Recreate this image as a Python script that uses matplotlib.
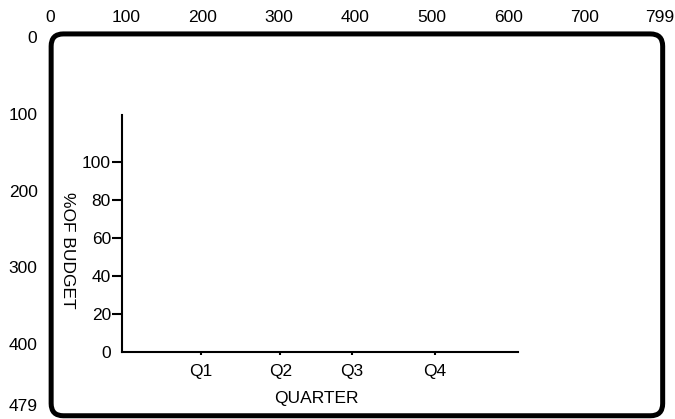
import matplotlib
matplotlib.use('Agg')
import matplotlib.pyplot as plt
from matplotlib.patches import FancyBboxPatch

plt.rcParams['font.family'] = ['Liberation Sans', 'DejaVu Sans']

# screen ruler (device coordinates)
screen_x_ticks = [0, 100, 200, 300, 400, 500, 600, 700, 799]
screen_y_ticks = [0, 100, 200, 300, 400, 479]

# inner chart
quarters = ['Q1', 'Q2', 'Q3', 'Q4']
budget_ticks = [0, 20, 40, 60, 80, 100]
q_pos = [1.0, 2.0, 2.9, 3.95]

W, H = 675, 419
FS = 12.5
fig = plt.figure(figsize=(W / 100, H / 100), dpi=100)

def frac(x0, y0, x1, y1):
    # pixel box (top-left origin) -> figure fraction
    return [x0 / W, 1 - y1 / H, (x1 - x0) / W, (y1 - y0) / H]

# outer screen axes
scr = fig.add_axes(frac(50, 37, 660, 405))
scr.set_xlim(0, 799)
scr.set_ylim(479, 0)
scr.xaxis.tick_top()
scr.set_xticks(screen_x_ticks)
scr.set_yticks(screen_y_ticks)
scr.tick_params(length=0, labelsize=FS)
scr.tick_params(axis='x', pad=9)
scr.tick_params(axis='y', pad=9)
for s in scr.spines.values():
    s.set_visible(False)
scr.patch.set_visible(False)

frame = FancyBboxPatch((1.5, -4), 801, 497,
                       boxstyle='round,pad=0,rounding_size=16',
                       fill=False, lw=3.6, ec='black', clip_on=False,
                       transform=scr.transData)
scr.add_patch(frame)

# inner chart axes
ax = fig.add_axes(frac(122, 115, 518, 352))
ax.set_xlim(0, 5)
ax.set_ylim(0, 124.7)
ax.spines['top'].set_visible(False)
ax.spines['right'].set_visible(False)
ax.spines['left'].set_linewidth(1.5)
ax.spines['bottom'].set_linewidth(1.5)
ax.patch.set_visible(False)

ax.set_yticks(budget_ticks)
ax.set_yticklabels([str(v) for v in budget_ticks])
ax.tick_params(axis='y', length=7, width=1.5, pad=1, labelsize=FS)
ax.yaxis.get_major_ticks()[0].tick1line.set_visible(False)

ax.set_xticks(q_pos)
ax.set_xticklabels(quarters)
ax.tick_params(axis='x', length=2.5, width=1.5, pad=6, labelsize=FS)

ax.set_xlabel('QUARTER', fontsize=FS)
ax.xaxis.set_label_coords(0.49, -0.165)
ax.set_ylabel('%OF BUDGET', fontsize=FS, rotation=-90, va='center')
ax.yaxis.set_label_coords(-0.137, 0.43)

fig.savefig('out.png', dpi=100)
